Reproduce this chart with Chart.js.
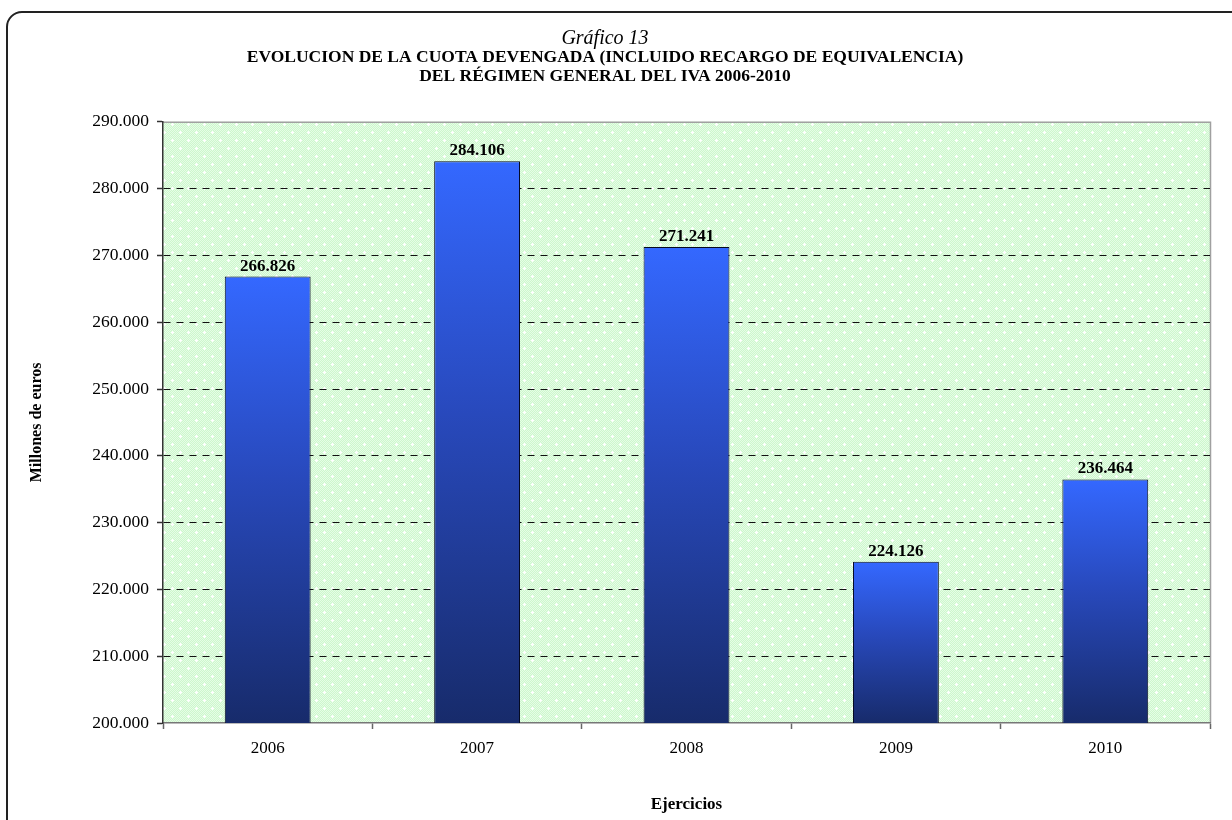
<!DOCTYPE html>
<html>
<head>
<meta charset="utf-8">
<script src="https://cdn.jsdelivr.net/npm/chart.js@4/dist/chart.umd.min.js"></script>
<style>
  html, body { margin: 0; padding: 0; background: #fff; }
  #wrap { width: 1232px; height: 820px; position: relative; }
</style>
</head>
<body>
<div id="wrap"><canvas id="chart"></canvas></div>
<script>
const years = ['2006', '2007', '2008', '2009', '2010'];
const cuota = [266826, 284106, 271241, 224126, 236464];
const yMin = 200000;
const yMax = 290000;
const yStep = 10000;

const SERIF = "'Liberation Serif', 'Times New Roman', serif";

// Spanish-style thousands separator (290.000)
const fmt = v => String(Math.round(v)).replace(/\B(?=(\d{3})+(?!\d))/g, '.');

// light green dotted fill like the Excel pattern
function makePattern(ctx) {
  const c = document.createElement('canvas');
  c.width = 16; c.height = 16;
  const p = c.getContext('2d');
  p.fillStyle = '#cdf7cd';
  p.fillRect(0, 0, 16, 16);
  p.fillStyle = '#e6fde6';
  for (let y = 0; y < 16; y++) {
    for (let x = (y % 2); x < 16; x += 2) p.fillRect(x, y, 1, 1);
  }
  p.fillStyle = '#ffffff';
  [[4, 4], [12, 12]].forEach(([x, y]) => {
    p.fillRect(x - 1, y, 3, 1);
    p.fillRect(x, y - 1, 1, 3);
  });
  return ctx.createPattern(c, 'repeat');
}

const frame = {
  id: 'frame',
  beforeDraw(chart) {
    const { ctx, chartArea: a } = chart;
    ctx.save();
    ctx.fillStyle = '#fff';
    ctx.fillRect(0, 0, chart.width, chart.height);
    ctx.fillStyle = makePattern(ctx);
    ctx.fillRect(a.left, a.top, a.right - a.left, a.bottom - a.top);
    // gray plot border on top and right
    ctx.strokeStyle = '#a0a0a0';
    ctx.lineWidth = 1.5;
    ctx.beginPath();
    ctx.moveTo(a.left, a.top + 0.5);
    ctx.lineTo(a.right + 0.5, a.top + 0.5);
    ctx.lineTo(a.right + 0.5, a.bottom);
    ctx.stroke();
    ctx.restore();
  },
  afterDraw(chart) {
    const { ctx } = chart;
    // outer rounded frame (cut off at right and bottom)
    ctx.save();
    ctx.strokeStyle = '#222';
    ctx.lineWidth = 2;
    ctx.beginPath();
    ctx.roundRect(7, 12, chart.width + 40, chart.height + 40, 15);
    ctx.stroke();
    ctx.restore();
  }
};

const barLabels = {
  id: 'barLabels',
  afterDatasetsDraw(chart) {
    const { ctx } = chart;
    const meta = chart.getDatasetMeta(0);
    ctx.save();
    ctx.font = 'bold 17px ' + SERIF;
    ctx.fillStyle = '#000';
    ctx.textAlign = 'center';
    ctx.textBaseline = 'alphabetic';
    meta.data.forEach((bar, i) => {
      ctx.fillText(fmt(cuota[i]), bar.x, bar.y - 6);
    });
    ctx.restore();
  }
};

const barGradient = (context) => {
  const { chart, dataIndex } = context;
  const { chartArea, scales } = chart;
  if (!chartArea) return '#3366ff';
  const top = scales.y.getPixelForValue(cuota[dataIndex]);
  const bottom = scales.y.getPixelForValue(yMin);
  const g = chart.ctx.createLinearGradient(0, top, 0, bottom);
  g.addColorStop(0, '#3468ff');
  g.addColorStop(0.45, '#2849bc');
  g.addColorStop(1, '#172b6b');
  return g;
};

new Chart(document.getElementById('chart'), {
  type: 'bar',
  data: {
    labels: years,
    datasets: [{
      data: cuota,
      backgroundColor: barGradient,
      borderColor: '#050a20',
      borderWidth: 1,
      borderSkipped: false,
      barPercentage: 0.41,
      categoryPercentage: 1
    }]
  },
  options: {
    responsive: true,
    maintainAspectRatio: false,
    animation: false,
    layout: { padding: { left: 0, right: 22, top: 0, bottom: 0 } },
    plugins: {
      legend: { display: false },
      tooltip: { enabled: false },
      title: {
        display: true,
        text: 'Gráfico 13',
        color: '#000',
        font: { family: SERIF, size: 20, style: 'italic', weight: 'normal', lineHeight: 0.95 },
        padding: { top: 29, bottom: 0 }
      },
      subtitle: {
        display: true,
        text: ['EVOLUCION DE LA CUOTA DEVENGADA (INCLUIDO RECARGO DE EQUIVALENCIA)', 'DEL RÉGIMEN GENERAL DEL IVA 2006-2010'],
        color: '#000',
        font: { family: SERIF, size: 17.5, weight: 'bold', lineHeight: 1.08 },
        padding: { top: 0, bottom: 36 }
      }
    },
    scales: {
      x: {
        afterFit: s => { s.height = 97; },
        grid: {
          offset: true,
          drawOnChartArea: false,
          drawTicks: true,
          tickLength: 6,
          tickColor: '#666',
          tickWidth: 1.5
        },
        border: { display: true, color: '#777', width: 1.5 },
        ticks: {
          color: '#000',
          font: { family: SERIF, size: 17 },
          padding: 9
        },
        title: {
          display: true,
          text: 'Ejercicios',
          color: '#000',
          font: { family: SERIF, size: 17, weight: 'bold' },
          padding: { top: 0, bottom: 5 }
        }
      },
      y: {
        min: yMin,
        max: yMax,
        afterFit: s => { s.width = 163; },
        grid: {
          color: ctx => (ctx.tick && (ctx.tick.value === yMin || ctx.tick.value === yMax)) ? 'rgba(0,0,0,0)' : '#111',
          lineWidth: 1,
          drawTicks: true,
          tickLength: 6,
          tickColor: '#333',
          tickWidth: 1.5,
          tickBorderDash: []
        },
        border: { display: true, color: '#333', width: 1.5, dash: [7, 6] },
        ticks: {
          stepSize: yStep,
          color: '#000',
          font: { family: SERIF, size: 17.5 },
          padding: 8,
          callback: v => fmt(v)
        },
        title: {
          display: true,
          text: 'Millones de euros',
          color: '#000',
          font: { family: SERIF, size: 16, weight: 'bold' },
          padding: { top: 27, bottom: 0 }
        }
      }
    }
  },
  plugins: [frame, barLabels]
});
</script>
</body>
</html>
